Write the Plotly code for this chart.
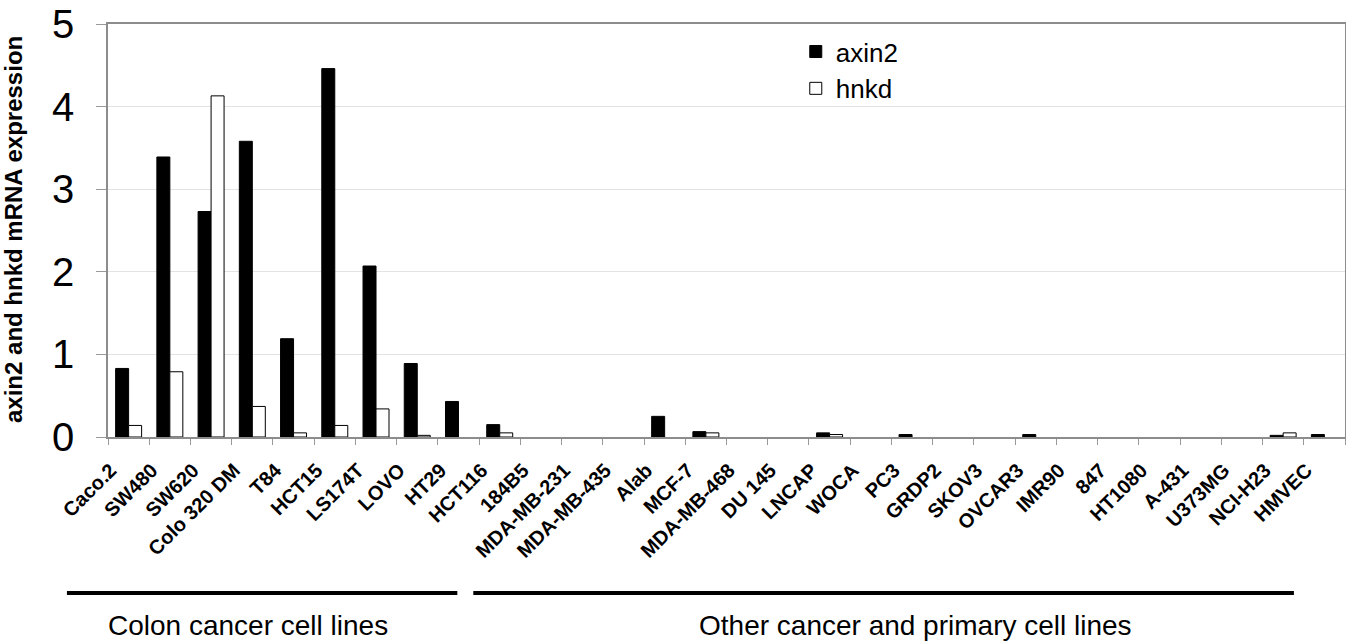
import plotly.graph_objects as go

cell_lines = ["Caco.2", "SW480", "SW620", "Colo 320 DM", "T84", "HCT15", "LS174T", "LOVO",
              "HT29", "HCT116", "184B5", "MDA-MB-231", "MDA-MB-435", "Alab", "MCF-7",
              "MDA-MB-468", "DU 145", "LNCAP", "WOCA", "PC3", "GRDP2", "SKOV3", "OVCAR3",
              "IMR90", "847", "HT1080", "A-431", "U373MG", "NCI-H23", "HMVEC"]

axin2 = [0.83, 3.39, 2.73, 3.58, 1.19, 4.46, 2.07, 0.89,
         0.43, 0.15, 0.0, 0.0, 0.0, 0.25, 0.065,
         0.0, 0.0, 0.05, 0.0, 0.03, 0.0, 0.0, 0.03,
         0.0, 0.0, 0.0, 0.0, 0.0, 0.02, 0.03]

hnkd = [0.14, 0.79, 4.13, 0.37, 0.05, 0.14, 0.34, 0.02,
        0.0, 0.05, 0.0, 0.0, 0.0, 0.0, 0.05,
        0.0, 0.0, 0.03, 0.0, 0.0, 0.0, 0.0, 0.0,
        0.0, 0.0, 0.0, 0.0, 0.0, 0.05, 0.0]

group_labels = ["Colon cancer cell lines", "Other cancer and primary cell lines"]
y_title = "axin2 and hnkd mRNA expression"

FONT = "Liberation Sans, Arial, sans-serif"


def outline(vals):
    return [1 if v > 0 else 0 for v in vals]


fig = go.Figure()
fig.add_trace(go.Bar(x=cell_lines, y=axin2, name="axin2",
                     marker=dict(color="black", line=dict(color="black", width=outline(axin2)))))
fig.add_trace(go.Bar(x=cell_lines, y=hnkd, name="hnkd",
                     marker=dict(color="white", line=dict(color="black", width=outline(hnkd)))))

fig.update_layout(
    width=1346, height=644, autosize=False,
    margin=dict(l=108, r=1, t=24, b=207, autoexpand=False),
    paper_bgcolor="white", plot_bgcolor="white",
    barmode="group", bargap=0.37, bargroupgap=0,
    font=dict(family=FONT, color="black"),
    showlegend=True,
    legend=dict(x=0.556, y=0.99, xanchor="left", yanchor="top",
                font=dict(size=26, family=FONT), bgcolor="rgba(0,0,0,0)",
                tracegroupgap=0),
)

fig.update_xaxes(
    type="category", tickangle=-45, automargin=False,
    tickfont=dict(size=20, family=FONT, weight="bold"),
    ticks="outside", tickson="boundaries", ticklen=6, tickcolor="#999999",
    ticklabelshift=-18, ticklabelstandoff=12,
    showline=True, linecolor="#8c8c8c", linewidth=1.5, mirror=True,
    showgrid=False,
)
fig.update_yaxes(
    range=[0, 5], dtick=1, automargin=False,
    tickfont=dict(size=40, family=FONT),
    ticks="outside", ticklen=10, tickcolor="#999999",
    showline=True, linecolor="#8c8c8c", linewidth=1.5, mirror=True,
    showgrid=True, gridcolor="#e3e3e3", gridwidth=1,
    ticklabelstandoff=14,
)

# y-axis title as rotated annotation
fig.add_annotation(text=y_title, xref="paper", yref="paper", x=-0.0768, y=0.5036,
                   textangle=-90, showarrow=False, xanchor="center", yanchor="middle",
                   font=dict(size=24, family=FONT, color="black", weight="bold"))

# group brackets
fig.add_shape(type="line", xref="paper", yref="paper", x0=-0.0332, x1=0.2824,
              y0=-0.3777, y1=-0.3777, line=dict(color="black", width=4))
fig.add_shape(type="line", xref="paper", yref="paper", x0=0.2953, x1=0.9587,
              y0=-0.3777, y1=-0.3777, line=dict(color="black", width=4))

fig.add_annotation(text=group_labels[0], xref="paper", yref="paper", x=0.1133, y=-0.4985,
                   showarrow=False, xanchor="center", yanchor="bottom",
                   font=dict(size=28, family=FONT, color="black"))
fig.add_annotation(text=group_labels[1], xref="paper", yref="paper", x=0.6529, y=-0.4985,
                   showarrow=False, xanchor="center", yanchor="bottom",
                   font=dict(size=28, family=FONT, color="black"))

fig.write_html(
    "out.html",
    config={"displayModeBar": False},
    post_script="document.body.style.margin='0px';document.body.style.overflow='hidden';",
)
